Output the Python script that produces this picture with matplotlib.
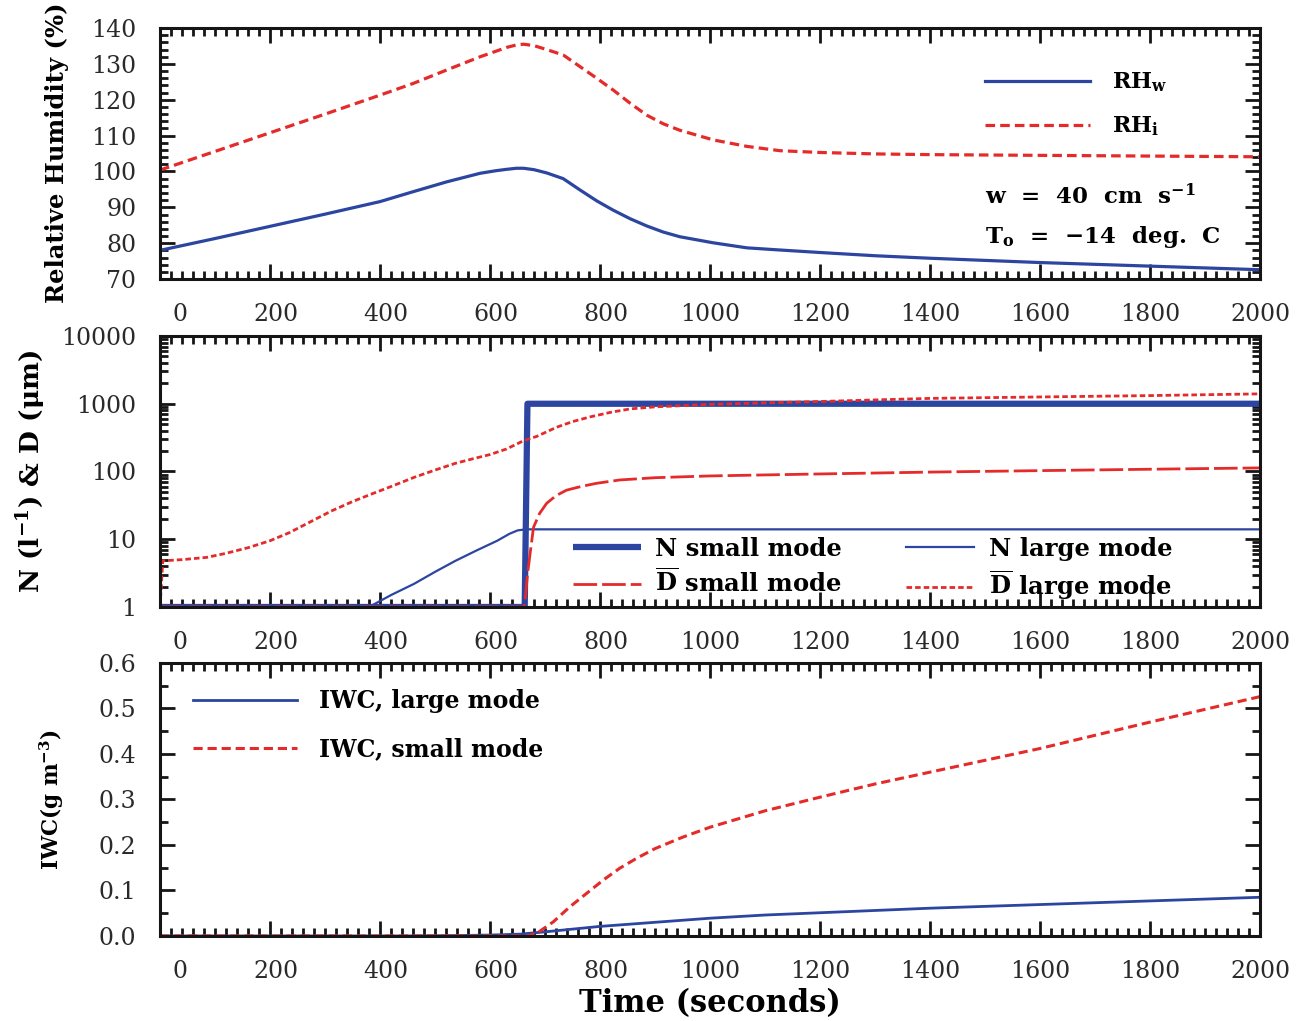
import matplotlib
matplotlib.use("Agg")
import matplotlib.pyplot as plt
from matplotlib.ticker import MultipleLocator, LogLocator, NullFormatter, FuncFormatter
from matplotlib.transforms import ScaledTranslation

# ---------------- data ----------------
# Relative humidity with respect to water and ice (%)
t_rh = [0, 100, 200, 300, 400, 461, 521, 582, 610, 630, 648, 661, 680, 703, 733, 764,
        794, 824, 855, 885, 915, 945, 1006, 1067, 1127, 1200, 1300, 1400, 1500, 1600,
        1700, 1800, 1900, 2000]
rh_w = [78.0, 81.3, 84.7, 88.1, 91.6, 94.4, 97.1, 99.5, 100.2, 100.6, 100.9, 100.9, 100.5,
        99.6, 98.0, 94.8, 91.8, 89.2, 86.8, 84.8, 83.1, 81.8, 80.1, 78.7, 78.1, 77.4, 76.5,
        75.8, 75.2, 74.6, 74.1, 73.6, 73.1, 72.6]
rh_i = [100.4, 105.6, 110.8, 116.0, 121.3, 124.6, 128.3, 132.0, 133.5, 134.6, 135.3, 135.5,
        135.1, 134.0, 132.5, 129.2, 126.0, 122.7, 119.0, 115.7, 113.3, 111.5, 108.8, 107.0,
        105.8, 105.3, 104.9, 104.7, 104.6, 104.5, 104.4, 104.3, 104.2, 104.1]

# Number concentration (per litre) and mean diameter (micron) of both ice modes
t_n_small = [0, 663, 668, 2000]
n_small = [1, 1, 1000, 1000]

t_n_large = [0, 380, 420, 462, 500, 537, 575, 613, 635, 650, 665, 2000]
n_large = [1, 1, 1.5, 2.2, 3.3, 4.8, 6.8, 9.5, 12.0, 13.5, 14.0, 14.0]

t_d_small = [0, 662, 664, 668, 673, 679, 690, 703, 720, 739, 765, 794, 836, 900, 1000,
             1100, 1200, 1400, 1600, 1800, 2000]
d_small = [1, 1, 1.3, 3.0, 6.3, 15, 24, 34, 44, 53, 60, 67, 75, 81, 86, 89, 92, 98, 103,
           108, 113]

t_d_large = [0, 5, 40, 85, 120, 160, 200, 235, 270, 311, 350, 386, 420, 462, 500, 537,
             570, 600, 630, 661, 685, 721, 750, 782, 820, 855, 900, 1000, 1100, 1200,
             1400, 1600, 1800, 2000]
d_large = [1, 4.8, 5.0, 5.4, 6.2, 7.5, 9.5, 12.5, 17.5, 26, 36, 47, 60, 82, 105, 132,
           155, 178, 215, 285, 330, 450, 545, 640, 750, 840, 900, 980, 1030, 1080, 1200,
           1260, 1320, 1400]

# Ice water content (g m^-3)
t_iwc_large = [0, 450, 550, 600, 655, 700, 750, 800, 900, 1000, 1100, 1200, 1400, 1600,
               1800, 2000]
iwc_large = [0, 0, 0.001, 0.002, 0.004, 0.009, 0.015, 0.021, 0.030, 0.039, 0.046, 0.051,
             0.061, 0.069, 0.077, 0.085]

t_iwc_small = [0, 670, 690, 715, 745, 776, 806, 836, 867, 900, 950, 1000, 1100, 1200,
               1300, 1400, 1500, 1600, 1700, 1800, 1900, 2000]
iwc_small = [0, 0, 0.010, 0.031, 0.064, 0.094, 0.123, 0.149, 0.171, 0.192, 0.217, 0.239,
             0.275, 0.305, 0.334, 0.360, 0.386, 0.412, 0.441, 0.470, 0.498, 0.526]

x_ticks = [0, 200, 400, 600, 800, 1000, 1200, 1400, 1600, 1800, 2000]

BLUE = "#2c45a0"
RED = "#e52a2a"
INK = "#151515"

plt.rcParams["font.family"] = ["DejaVu Serif"]
plt.rcParams["mathtext.fontset"] = "dejavuserif"
plt.rcParams["mathtext.default"] = "bf"

fig = plt.figure(figsize=(13, 10.21), dpi=100)
ax1 = fig.add_axes([0.1231, 0.7267, 0.8462, 0.2458])
ax2 = fig.add_axes([0.1231, 0.4055, 0.8462, 0.2654])
ax3 = fig.add_axes([0.1231, 0.0833, 0.8462, 0.2674])


def style_axes(ax):
    ax.set_xlim(0, 2000)
    ax.set_xticks(x_ticks)
    ax.xaxis.set_minor_locator(MultipleLocator(20))
    ax.tick_params(which="both", direction="in", top=True, right=True,
                   width=2.0, color=INK, labelcolor="#2a2a2a")
    ax.tick_params(which="major", length=11, labelsize=17)
    ax.tick_params(axis="x", which="major", pad=17)
    ax.tick_params(axis="y", which="major", pad=17)
    ax.tick_params(which="minor", length=6)
    for sp in ax.spines.values():
        sp.set_linewidth(2.2)
        sp.set_color(INK)


# ---- panel 1: relative humidity ----
ax1.plot(t_rh, rh_w, color=BLUE, lw=2.3, label=r"RH$_\mathbf{w}$")
ax1.plot(t_rh, rh_i, color=RED, lw=2.3, dashes=(3.0, 1.6), label=r"RH$_\mathbf{i}$")
ax1.set_ylim(70, 140)
ax1.yaxis.set_major_locator(MultipleLocator(10))
ax1.yaxis.set_minor_locator(MultipleLocator(2))
style_axes(ax1)
ax1.set_ylabel("Relative Humidity (%)", fontsize=17.5, fontweight="bold")
ax1.yaxis.set_label_coords(-0.083, 0.505)
ax1.legend(loc="upper left", bbox_to_anchor=(0.75, 0.83), frameon=False,
           prop={"size": 16, "weight": "bold"}, handlelength=4.7,
           handletextpad=1.0, labelspacing=0.9, borderpad=0, borderaxespad=0)
ax1.text(0.75, 0.327, r"w  =  40  cm  s$^{-1}$", transform=ax1.transAxes,
         va="center", ha="left", fontsize=16.5, fontweight="bold")
ax1.text(0.75, 0.167, r"T$_\mathbf{o}$  =  $-$14  deg.  C", transform=ax1.transAxes,
         va="center", ha="left", fontsize=16.5, fontweight="bold")

# ---- panel 2: number concentration and mean diameter ----
h_ns, = ax2.plot(t_n_small, n_small, color=BLUE, lw=4.5, solid_capstyle="butt")
h_nl, = ax2.plot(t_n_large, n_large, color=BLUE, lw=1.6)
h_ds, = ax2.plot(t_d_small, d_small, color=RED, lw=2.0, dashes=(8.5, 1.8))
h_dl, = ax2.plot(t_d_large, d_large, color=RED, lw=2.0, dashes=(2.0, 1.1))
ax2.set_yscale("log")
ax2.set_ylim(1, 10000)
ax2.yaxis.set_major_locator(LogLocator(base=10))
ax2.yaxis.set_minor_locator(LogLocator(base=10, subs=range(2, 10)))
ax2.yaxis.set_minor_formatter(NullFormatter())
ax2.yaxis.set_major_formatter(FuncFormatter(lambda v, p: f"{v:.0f}"))
style_axes(ax2)
ax2.set_ylabel(r"N (l$^{-1}$) & D ($\mu$m)", fontsize=19, fontweight="bold")
ax2.yaxis.set_label_coords(-0.102, 0.5)
ax2.legend([h_ns, h_ds, h_nl, h_dl],
           ["N small mode", r"$\overline{\mathbf{D}}$ small mode",
            "N large mode", r"$\overline{\mathbf{D}}$ large mode"],
           ncol=2, loc="upper left", bbox_to_anchor=(0.375, 0.26), frameon=False,
           prop={"size": 17.5, "weight": "bold"}, handlelength=2.8,
           handletextpad=0.6, labelspacing=0.35, columnspacing=2.65,
           borderpad=0, borderaxespad=0)

# ---- panel 3: ice water content ----
ax3.plot(t_iwc_large, iwc_large, color=BLUE, lw=2.0, label="IWC, large mode")
ax3.plot(t_iwc_small, iwc_small, color=RED, lw=2.2, dashes=(3.0, 1.6),
         label="IWC, small mode")
ax3.set_ylim(0, 0.6)
ax3.yaxis.set_major_locator(MultipleLocator(0.1))
ax3.yaxis.set_minor_locator(MultipleLocator(0.05))
ax3.yaxis.set_major_formatter(FuncFormatter(lambda v, p: f"{v:.1f}"))
style_axes(ax3)
ax3.set_ylabel(r"IWC(g m$^{-3}$)", fontsize=15.5, fontweight="bold")
ax3.yaxis.set_label_coords(-0.0855, 0.5)
ax3.set_xlabel("Time (seconds)", fontsize=22, fontweight="bold")
ax3.xaxis.set_label_coords(0.5, -0.19)
ax3.legend(loc="upper left", bbox_to_anchor=(0.03, 0.905), frameon=False,
           prop={"size": 17, "weight": "bold"}, handlelength=4.4,
           handletextpad=0.95, labelspacing=1.05, borderpad=0, borderaxespad=0)

# x tick labels below 1000 sit a little right of their ticks
for ax in (ax1, ax2, ax3):
    for tick, val in zip(ax.xaxis.get_major_ticks(), x_ticks):
        if val == 0:
            dx = 0.2
        elif val < 1000:
            dx = 0.06
        else:
            continue
        lab = tick.label1
        lab.set_transform(lab.get_transform() + ScaledTranslation(dx, 0, fig.dpi_scale_trans))

fig.savefig("out.png", dpi=100)
